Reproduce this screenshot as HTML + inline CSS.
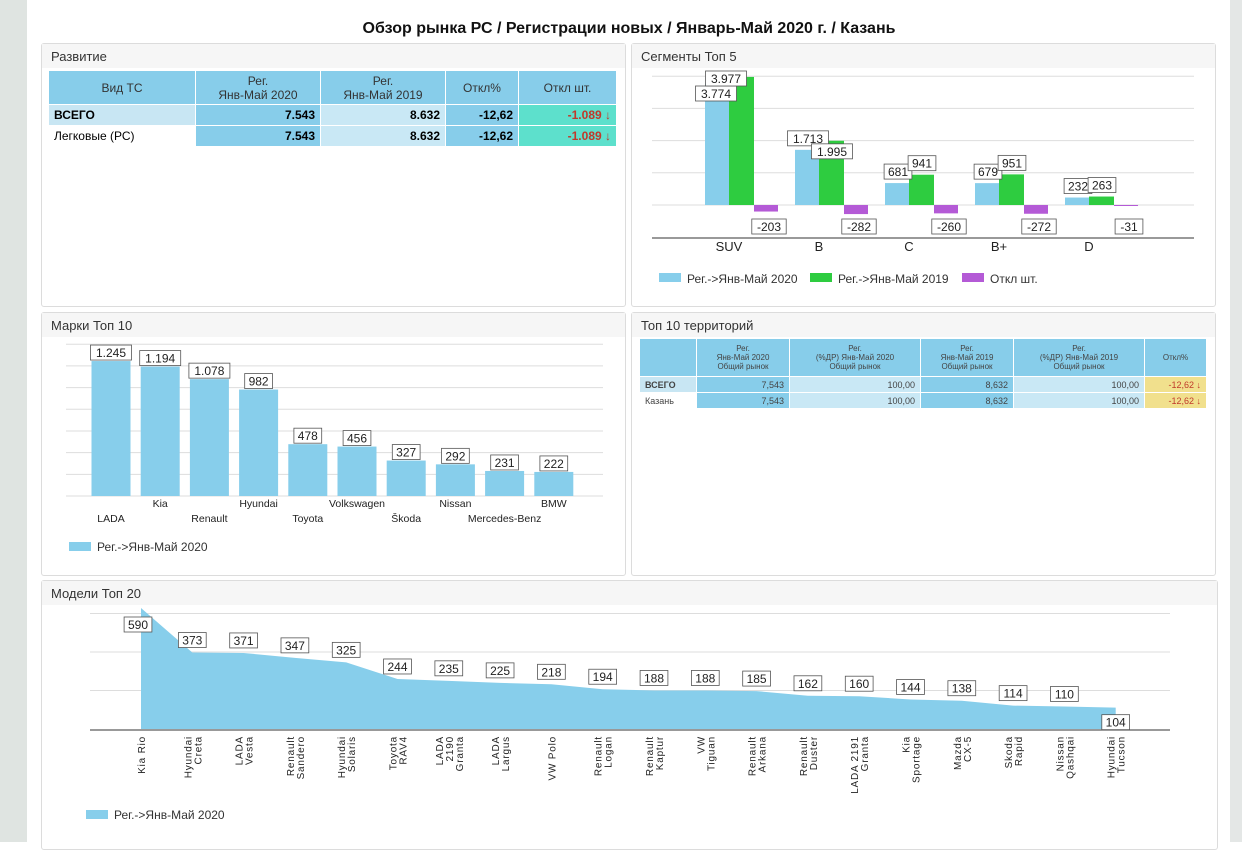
<!DOCTYPE html>
<html><head><meta charset="utf-8"><style>
body{margin:0;width:1242px;height:842px;background:#fff;font-family:"Liberation Sans",sans-serif;position:relative;overflow:hidden}
.strip{position:absolute;left:0;top:0;width:27px;height:842px;background:#dfe4e1}
.stripr{position:absolute;left:1230px;top:0;width:12px;height:842px;background:#e4e7e6}
.title{position:absolute;left:0;width:1258px;top:20px;text-align:center;font-weight:bold;font-size:16px;color:#111}
.panel{position:absolute;border:1px solid #dcdcdc;border-radius:3px;background:#fff;box-sizing:border-box}
.ph{height:24px;line-height:26px;padding-left:9px;font-size:13px;color:#333;background:#f6f6f6}
table{border-collapse:collapse;position:absolute;font-size:12px}
td{border:1px solid #fff;padding:0 5px}
svg{position:absolute;left:0;top:0}
svg text{font-family:"Liberation Sans",sans-serif}
</style></head><body>
<div class="strip"></div>
<div class="stripr"></div>
<div class="title">Обзор рынка РС / Регистрации новых / Январь-Май 2020 г. / Казань</div>

<div class="panel" style="left:41px;top:43px;width:585px;height:264px">
<div class="ph">Развитие</div>
<table style="left:6px;top:26px;width:569px">
<tr style="height:34px;background:#87cdea;color:#333;text-align:center"><td style="width:136px">Вид ТС</td><td style="width:114px">Рег.<br>Янв-Май 2020</td><td style="width:114px">Рег.<br>Янв-Май 2019</td><td style="width:62px">Откл%</td><td>Откл шт.</td></tr>
<tr style="height:21px;font-weight:bold;text-align:right"><td style="text-align:left;background:#c8e6f3">ВСЕГО</td><td style="background:#87cdea">7.543</td><td style="background:#c9e8f5">8.632</td><td style="background:#87cdea">-12,62</td><td style="background:#5de0cc;color:#c0392b">-1.089 ↓</td></tr>
<tr style="height:21px;font-weight:bold;text-align:right"><td style="text-align:left;background:#fff;font-weight:normal">Легковые (РС)</td><td style="background:#87cdea">7.543</td><td style="background:#c9e8f5">8.632</td><td style="background:#87cdea">-12,62</td><td style="background:#5de0cc;color:#c0392b">-1.089 ↓</td></tr>
</table></div>

<div class="panel" style="left:631px;top:43px;width:585px;height:264px">
<div class="ph">Сегменты Топ 5</div></div>
<div class="panel" style="left:41px;top:312px;width:585px;height:264px">
<div class="ph">Марки Топ 10</div></div>

<div class="panel" style="left:631px;top:312px;width:585px;height:264px">
<div class="ph">Топ 10 территорий</div>
<table style="left:7px;top:25px;width:568px;font-size:9px;color:#444">
<tr style="height:38px;background:#87cdea;text-align:center;font-size:8px"><td style="width:46px"></td><td style="width:82px">Рег.<br>Янв-Май 2020<br>Общий рынок</td><td style="width:120px">Рег.<br>(%ДР) Янв-Май 2020<br>Общий рынок</td><td style="width:82px">Рег.<br>Янв-Май 2019<br>Общий рынок</td><td style="width:120px">Рег.<br>(%ДР) Янв-Май 2019<br>Общий рынок</td><td>Откл%</td></tr>
<tr style="height:16px;text-align:right"><td style="text-align:left;font-weight:bold;background:#c8e6f3">ВСЕГО</td><td style="background:#87cdea">7,543</td><td style="background:#c9e8f5">100,00</td><td style="background:#87cdea">8,632</td><td style="background:#c9e8f5">100,00</td><td style="background:#f1e08d;color:#c0392b">-12,62 ↓</td></tr>
<tr style="height:16px;text-align:right"><td style="text-align:left;background:#fff">Казань</td><td style="background:#87cdea">7,543</td><td style="background:#c9e8f5">100,00</td><td style="background:#87cdea">8,632</td><td style="background:#c9e8f5">100,00</td><td style="background:#f1e08d;color:#c0392b">-12,62 ↓</td></tr>
</table></div>

<div class="panel" style="left:41px;top:580px;width:1177px;height:270px">
<div class="ph">Модели Топ 20</div></div>

<svg id="chart" width="1242" height="842"></svg>
<script>
const segCats=["SUV","B","C","B+","D"];
const seg2020=[3774,1713,681,679,232];
const seg2019=[3977,1995,941,951,263];
const segDiff=[-203,-282,-260,-272,-31];
const brandCats=["LADA","Kia","Renault","Hyundai","Toyota","Volkswagen","Škoda","Nissan","Mercedes-Benz","BMW"];
const brandVals=[1245,1194,1078,982,478,456,327,292,231,222];
const brandLabels=["1.245","1.194","1.078","982","478","456","327","292","231","222"];
const modelCats=[["Kia Rio"],["Hyundai","Creta"],["LADA","Vesta"],["Renault","Sandero"],["Hyundai","Solaris"],["Toyota","RAV4"],["LADA","2190","Granta"],["LADA","Largus"],["VW Polo"],["Renault","Logan"],["Renault","Kaptur"],["VW","Tiguan"],["Renault","Arkana"],["Renault","Duster"],["LADA 2191","Granta"],["Kia","Sportage"],["Mazda","CX-5"],["Skoda","Rapid"],["Nissan","Qashqai"],["Hyundai","Tucson"]];
const modelVals=[590,373,371,347,325,244,235,225,218,194,188,188,185,162,160,144,138,114,110,104];

const svg=document.getElementById('chart');const NS='http://www.w3.org/2000/svg';
function mk(t,a,name,txt){const e=document.createElementNS(NS,t);for(const k in a)e.setAttribute(k,a[k]);


if(txt!==undefined)e.textContent=txt;svg.appendChild(e);return e;}
function box(cx,y,txt,name){const w=txt.length*6.6+8;mk('rect',{x:cx-w/2,y:y-13,width:w,height:15,fill:'#fff',stroke:'#555','stroke-width':0.8},name+'-box');mk('text',{x:cx,y:y-1,'text-anchor':'middle','font-size':12,fill:'#222'},name,txt);}
const fmt=v=>{const s=Math.abs(v)>=1000?(Math.floor(Math.abs(v)/1000)+'.'+String(Math.abs(v)%1000).padStart(3,'0')):String(Math.abs(v));return (v<0?'-':'')+s;};

// Segments
const sy0=205,sk=0.0322,sgx=i=>729+i*90;const sY=v=>sy0-v*sk;
for(let g=0;g<=4;g++){mk('line',{x1:652,x2:1194,y1:sY(g*1000),y2:sY(g*1000),stroke:'#ddd'},'segments-gridline');}
segCats.forEach((c,i)=>{const x=sgx(i);
mk('rect',{x:x-24,y:sY(seg2020[i]),width:24,height:seg2020[i]*sk,fill:'#87ceeb'},'segment-bar-2020');
mk('rect',{x:x,y:sY(seg2019[i]),width:25,height:seg2019[i]*sk,fill:'#2ecc40'},'segment-bar-2019');
mk('rect',{x:x+25,y:sy0,width:24,height:-segDiff[i]*sk,fill:'#b45ad6'},'segment-bar-diff');
mk('text',{x:x,y:251,'text-anchor':'middle','font-size':13,fill:'#222'},'segment-label',c);});
mk('line',{x1:652,x2:1194,y1:238,y2:238,stroke:'#333'},'segments-x-axis');
segCats.forEach((c,i)=>{const x=sgx(i);
let a=sY(seg2020[i])-6,b=sY(seg2019[i])-6,clamped=false;
if(a<84){a=84;clamped=true;} if(b<84){b=84;clamped=true;}
const l1=fmt(seg2020[i]),l2=fmt(seg2019[i]);const overlap=((l1.length+l2.length)*3.3+8)>30&&Math.abs(a-b)<15;
if(overlap){if(clamped)a=b+15;else b=a+13;}
box(x-11-(clamped?2:0),a,l1,'segment-value-2020');
box(x+13-(clamped?16:0),b,l2,'segment-value-2019');
box(x+40,232,fmt(segDiff[i]),'segment-value-diff');});
[['#87ceeb','Рег.->Янв-Май 2020',659],['#2ecc40','Рег.->Янв-Май 2019',810],['#b45ad6','Откл шт.',962]].forEach(l=>{
mk('rect',{x:l[2],y:273,width:22,height:9,fill:l[0]},'segments-legend-swatch');mk('text',{x:l[2]+28,y:283,'font-size':12,fill:'#333'},'segments-legend-entry',l[1]);});

// Brands
const by0=496,bk=0.1084,bx=i=>111+i*49.2;const bY=v=>by0-v*bk;
for(let g=0;g<=7;g++)mk('line',{x1:66,x2:603,y1:bY(g*200),y2:bY(g*200),stroke:'#ddd'},'brands-gridline');
brandCats.forEach((c,i)=>{const x=bx(i);
mk('rect',{x:x-19.5,y:bY(brandVals[i]),width:39,height:brandVals[i]*bk,fill:'#87ceeb'},'brand-bar');
box(x,bY(brandVals[i])-3,brandLabels[i],'brand-value');
mk('text',{x:x,y:i%2?507:522,'text-anchor':'middle','font-size':10.5,fill:'#222'},'brand-label',c);});
mk('rect',{x:69,y:542,width:22,height:9,fill:'#87ceeb'},'brands-legend-swatch');
mk('text',{x:97,y:551,'font-size':12,fill:'#333'},'brands-legend-entry','Рег.->Янв-Май 2020');

// Models
const my0=729,mk2=0.205,mx=i=>141+i*51.3;const mY=v=>my0-v*mk2;
for(let g=1;g<=3;g++)mk('line',{x1:90,x2:1170,y1:my0-g*38.5,y2:my0-g*38.5,stroke:'#ddd'},'models-gridline');
let d='M'+mx(0)+','+my0;modelVals.forEach((v,i)=>d+=' L'+mx(i)+','+mY(v));d+=' L'+mx(19)+','+my0+'Z';
mk('path',{d:d,fill:'#87ceeb'},'models-area');
mk('line',{x1:90,x2:1170,y1:730,y2:730,stroke:'#333'},'models-x-axis');
modelVals.forEach((v,i)=>{let y=i==19?mY(v)+20:mY(v)-7;if(y<630)y=630;box(mx(i)+(i==0?-3:0),y,String(v),'model-value');
const lines=modelCats[i];lines.forEach((t,j)=>{const x=mx(i)-(lines.length-1)*5+j*10+4;
mk('text',{x:x,y:736,transform:'rotate(-90 '+x+' 736)','text-anchor':'end','font-size':10,'letter-spacing':'0.8',fill:'#222'},'model-label',t);});});
mk('rect',{x:86,y:810,width:22,height:9,fill:'#87ceeb'},'models-legend-swatch');
mk('text',{x:114,y:819,'font-size':12,fill:'#333'},'models-legend-entry','Рег.->Янв-Май 2020');
</script>
</body></html>
